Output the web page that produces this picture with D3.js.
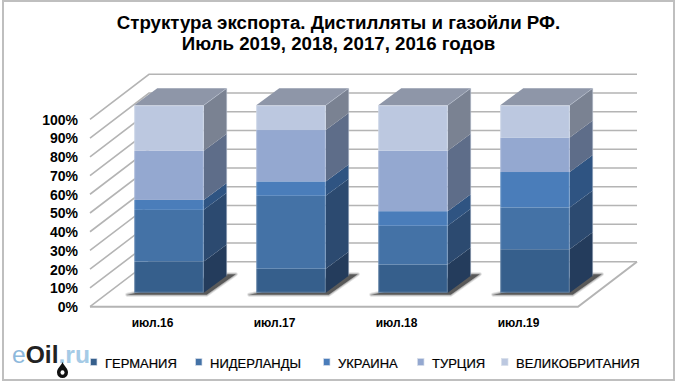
<!DOCTYPE html>
<html><head><meta charset="utf-8">
<script src="https://cdnjs.cloudflare.com/ajax/libs/d3/7.8.5/d3.min.js"></script>
<style>html,body{margin:0;padding:0;background:#fff}svg{display:block}text{font-family:"Liberation Sans",Arial,sans-serif}</style>
</head><body><svg id="c" width="680" height="385"></svg>
<script>
const categories=["июл.16","июл.17","июл.18","июл.19"];
const seriesNames=["ГЕРМАНИЯ","НИДЕРЛАНДЫ","УКРАИНА","ТУРЦИЯ","ВЕЛИКОБРИТАНИЯ"];
const germany=[16.6,12.8,15.0,23.2];
const netherlands=[27.6,38.9,20.7,22.3];
const ukraine=[5.3,7.7,7.8,18.9];
const turkey=[26.2,27.4,32.3,18.4];
const britain=[24.3,13.2,24.2,17.2];
const yTicks=[0,10,20,30,40,50,60,70,80,90,100];
const frontColors=["#365f8c","#4472a6","#4a7dba","#94a8d0","#bcc8e0"];
const sideColors=["#243c5c","#2c4a70","#2f5482","#5e6d89","#7a8292"];
const topColor="#8e96a8";
const titleLines=["Структура экспорта. Дистилляты и газойли РФ.","Июль 2019, 2018, 2017, 2016 годов"];
const legendText=[105,210,338,432,516];

const svg=d3.select("#c");

svg.append("rect").attr("x",3).attr("y",1).attr("width",671).attr("height",379).attr("fill","#fff").attr("stroke","#bfbfbf").attr("stroke-width",2);

const title=svg.append("text").attr("text-anchor","middle").attr("font-weight","bold").attr("font-size",18.7).attr("fill","#000");
titleLines.forEach((t,i)=>title.append("tspan").attr("x",338.5).attr("y",28.8+i*21.6).text(t));

// wall geometry
const xW=d3.scaleBand().domain(categories).range([90,578]);
const yW=d3.scaleLinear().domain([0,100]).range([306.7,119.3]);
const wallDx=59,wallDy=45;
const gridColor="#b4b4b4";
const grid=svg.append("g").attr("stroke",gridColor).attr("stroke-width",1.6).attr("fill","none");
yTicks.forEach(v=>{
  const y=yW(v);
  grid.append("path").attr("d",`M${90},${y}L${90+wallDx},${y-wallDy}L${578+wallDx},${y-wallDy}`);
});
grid.append("path").attr("d",`M90,${yW(0)}L578,${yW(0)}L${578+wallDx},${yW(0)-wallDy}`).attr("stroke-width",2);

// bars
const depthX=23,depthY=17;
const bandOffX=18,bandOffY=14,barW=69.5;
const stack=d3.stack().keys(d3.range(5))(categories.map((c,i)=>[germany[i],netherlands[i],ukraine[i],turkey[i],britain[i]]));
const bars=svg.append("g");
categories.forEach((c,i)=>{
  const x0=xW(c)+xW.bandwidth()/2+bandOffX-barW/2,x1=x0+barW;
  const b=yW(0)-bandOffY;
  const d=`M${x0-7},${b+2}L${x1+3},${b+2}L${x1+32},${b-18.5}L${x1+20},${b-18.5}Z`;
  bars.append("path").attr("d",d).attr("fill","#5a5a5a").attr("stroke","#5a5a5a").attr("stroke-opacity",.18).attr("stroke-width",4).attr("stroke-linejoin","round");
  bars.append("path").attr("d",d).attr("fill","none").attr("stroke","#5a5a5a").attr("stroke-opacity",.3).attr("stroke-width",2).attr("stroke-linejoin","round");
});
categories.forEach((c,i)=>{
  const x0=xW(c)+xW.bandwidth()/2+bandOffX-barW/2,x1=x0+barW;
  stack.forEach((s,k)=>{
    const yb=yW(s[i][0])-bandOffY,yt=yW(s[i][1])-bandOffY;
    bars.append("path").attr("fill",sideColors[k]).attr("d",`M${x1},${yb}L${x1+depthX},${yb-depthY}L${x1+depthX},${yt-depthY}L${x1},${yt}Z`);
    bars.append("rect").attr("x",x0).attr("y",yt).attr("width",barW).attr("height",yb-yt).attr("fill",frontColors[k]);
  });
  const top=yW(stack[4][i][1])-bandOffY,bot=yW(0)-bandOffY;
  bars.append("path").attr("fill",topColor).attr("d",`M${x0},${top}L${x0+depthX},${top-depthY}L${x1+depthX},${top-depthY}L${x1},${top}Z`);
  bars.append("rect").attr("x",x0+.5).attr("y",top+.5).attr("width",barW-1).attr("height",bot-top-1).attr("fill","none").attr("stroke","#fff").attr("stroke-opacity",.22);
  bars.append("path").attr("fill","none").attr("stroke","#c4cbdc").attr("stroke-opacity",.45).attr("d",`M${x1},${top}L${x1+depthX},${top-depthY}L${x1+depthX},${bot-depthY}`);
});

// axes
const yAxis=svg.append("g").attr("transform","translate(81,0)")
  .call(d3.axisLeft(yW).tickValues(yTicks).tickFormat(d=>d+"%").tickSize(0).tickPadding(3));
yAxis.select(".domain").remove();
yAxis.selectAll("text").attr("font-family","Liberation Sans").attr("font-weight","bold").attr("font-size",14).attr("fill","#000").attr("dy","0.35em");
const xAxis=svg.append("g").attr("transform","translate(1.5,315.5)")
  .call(d3.axisBottom(xW).tickSize(0).tickPadding(3));
xAxis.select(".domain").remove();
xAxis.selectAll("text").attr("font-family","Liberation Sans").attr("font-weight","bold").attr("font-size",12).attr("fill","#000");

// legend
const leg=svg.append("g");
seriesNames.forEach((n,i)=>{
  const tx=legendText[i];
  leg.append("rect").attr("x",tx-14.5).attr("y",358.5).attr("width",6.5).attr("height",7).attr("fill",frontColors[i]).attr("stroke","#d8deea").attr("stroke-width",.7);
  leg.append("text").attr("x",tx).attr("y",367.5).attr("font-size",13).attr("fill","#000").attr("stroke","#000").attr("stroke-width",.2).text(n);
});

// logo
const logo=svg.append("text").attr("x",12).attr("y",363).attr("font-size",24).attr("textLength",78).attr("lengthAdjust","spacingAndGlyphs");
logo.append("tspan").attr("fill","#8db9dc").text("e");
logo.append("tspan").attr("fill","#222").attr("font-weight","bold").text("Oil");
logo.append("tspan").attr("fill","#a5cbe6").attr("font-weight","bold").text(".ru");
svg.append("path").attr("fill","#111").attr("d","M62.5,362C60.5,367 57,368 57,372.5A5.5,5.5 0 0 0 68,372.5C68,368 64.5,367 62.5,362Z");
svg.append("ellipse").attr("cx",62.5).attr("cy",372.5).attr("rx",2).attr("ry",2.3).attr("fill","#fff");
</script></body></html>
